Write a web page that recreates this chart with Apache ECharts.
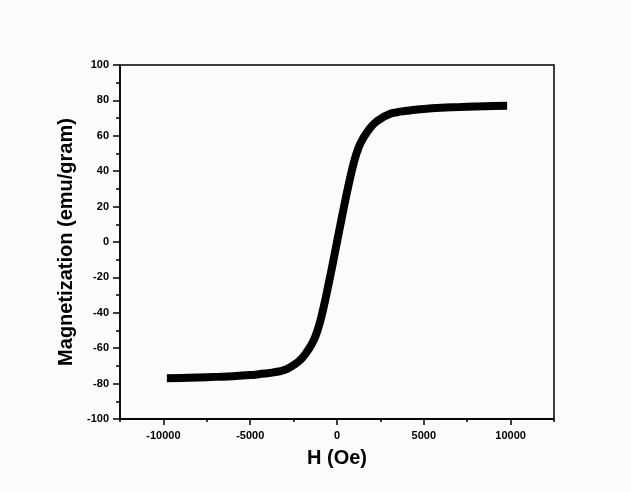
<!DOCTYPE html>
<html>
<head>
<meta charset="utf-8">
<script src="https://cdn.jsdelivr.net/npm/echarts@6/dist/echarts.min.js"></script>
<style>
html,body{margin:0;padding:0;background:#fbfbfb;}
#c{width:631px;height:492px;}
</style>
</head>
<body>
<div id="c"></div>
<script>
var fieldOe = [-9800,-9000,-8000,-7000,-6000,-5000,-4500,-4000,-3750,-3500,-3250,-3000,-2750,-2500,-2250,-2000,-1750,-1500,-1250,-1000,-750,-500,-250,0,
  250,500,750,1000,1250,1500,1750,2000,2250,2500,2750,3000,3250,3500,3750,4000,4500,5000,6000,7000,8000,9000,9800];
var magnetization = [-77,-76.9,-76.6,-76.2,-75.8,-75.2,-74.7,-74.1,-73.8,-73.4,-72.9,-72.2,-71,-69.5,-67.8,-65.5,-62.3,-58.5,-53.5,-46,-36,-24.5,-12.5,0,
  12.5,24.5,36,46,53.5,58.5,62.3,65.5,67.8,69.5,71,72.2,72.9,73.4,73.8,74.1,74.7,75.2,75.8,76.2,76.6,76.9,77];
var xMajorTicks = [-10000,-5000,0,5000,10000];
var xTitle = 'H (Oe)';
var yTitle = 'Magnetization (emu/gram)';

var points = fieldOe.map(function(h,i){return [h, magnetization[i]];});
var font = '"Liberation Sans", Arial, sans-serif';
var chart = echarts.init(document.getElementById('c'));
chart.setOption({
  backgroundColor: '#fbfbfb',
  animation: false,
  grid: {left:120, right:77, top:65, bottom:73, show:true, borderColor:'#000', borderWidth:1.5, backgroundColor:'transparent'},
  xAxis: [{
    type:'value', min:-12500, max:12500, interval:2500,
    axisLine:{show:true, onZero:false, lineStyle:{color:'#000', width:1.5}},
    axisTick:{show:true, length:3, lineStyle:{color:'#000', width:1.5}},
    axisLabel:{color:'#000', fontFamily:font, fontWeight:'bold', fontSize:11, margin:11,
      showMinLabel:true, showMaxLabel:true,
      formatter:function(v){ return (v % 5000 === 0) ? String(v) : ''; }},
    splitLine:{show:false},
    name:xTitle, nameLocation:'middle', nameGap:29,
    nameTextStyle:{color:'#000', fontFamily:font, fontWeight:'bold', fontSize:20}
  },{
    type:'value', min:-12500, max:12500, position:'bottom',
    axisLine:{show:true, onZero:false, lineStyle:{color:'#000', width:1.5}},
    axisTick:{show:true, customValues:xMajorTicks, length:6, lineStyle:{color:'#000', width:1.5}},
    axisLabel:{show:false},
    splitLine:{show:false}
  }],
  yAxis: [{
    type:'value', min:-100, max:100, interval:20,
    axisLine:{show:true, onZero:false, lineStyle:{color:'#000', width:1.5}},
    axisTick:{show:true, length:7, lineStyle:{color:'#000', width:1.5}},
    minorTick:{show:true, splitNumber:2, length:4, lineStyle:{color:'#000', width:1.5}},
    axisLabel:{color:'#000', fontFamily:font, fontWeight:'bold', fontSize:11, margin:11},
    splitLine:{show:false}, minorSplitLine:{show:false},
    name:yTitle, nameLocation:'middle', nameGap:42,
    nameTextStyle:{color:'#000', fontFamily:font, fontWeight:'bold', fontSize:20}
  }],
  series: [{
    type:'line', data:points, showSymbol:false, smooth:0.4,
    lineStyle:{color:'#000', width:8, join:'round'}
  }]
});
</script>
</body>
</html>
